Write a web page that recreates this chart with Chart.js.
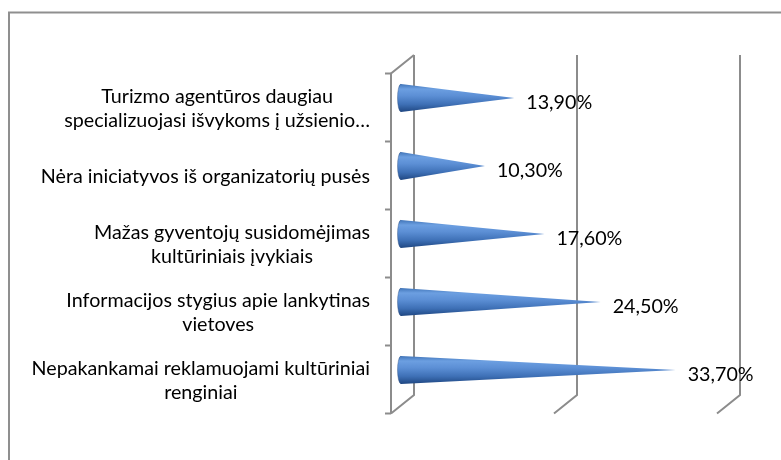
<!DOCTYPE html>
<html>
<head>
<meta charset="utf-8">
<script src="https://cdn.jsdelivr.net/npm/chart.js@4/dist/chart.umd.min.js"></script>
<style>
  html, body { margin: 0; padding: 0; background: #ffffff; }
  canvas { display: block; }
</style>
</head>
<body>
<canvas id="c" width="781" height="460"></canvas>
<script>
// ---- data ----
const categories = [
  ["Turizmo agentūros daugiau", "specializuojasi išvykoms į užsienio…"],
  ["Nėra iniciatyvos iš organizatorių pusės"],
  ["Mažas gyventojų susidomėjimas", "kultūriniais įvykiais"],
  ["Informacijos stygius apie lankytinas", "vietoves"],
  ["Nepakankamai reklamuojami kultūriniai", "renginiai"]
];
const values = [13.9, 10.3, 17.6, 24.5, 33.7];
const gridTicks = [0, 20, 40];

// ---- styling ----
const FONT = '19.7px Lato, "Open Sans", sans-serif';
const LINE = '#8c8c8c';
const BACK = { dx: 13, dy: -9 };
const FRONT = { dx: -10, dy: 9.5 };

function fmt(v) { return v.toFixed(2).replace('.', ',') + '%'; }

const framePlugin = {
  id: 'frame3d',
  beforeDatasetsDraw(chart) {
    const ctx = chart.ctx, xs = chart.scales.x, ca = chart.chartArea;
    ctx.save();
    // outer border (left + top)
    ctx.strokeStyle = '#8f8f8f';
    ctx.lineWidth = 2;
    ctx.beginPath();
    ctx.moveTo(9, 460); ctx.lineTo(9, 12.5); ctx.lineTo(781, 12.5);
    ctx.stroke();

    ctx.strokeStyle = LINE;
    ctx.lineWidth = 2;
    const x0 = xs.getPixelForValue(0);
    gridTicks.forEach(v => {
      const x = xs.getPixelForValue(v);
      ctx.beginPath();
      ctx.moveTo(x + BACK.dx, ca.top + BACK.dy);
      ctx.lineTo(x + BACK.dx, ca.bottom + BACK.dy);
      ctx.lineTo(x + FRONT.dx, ca.bottom + FRONT.dy);
      ctx.stroke();
    });
    // left wall top diagonal + front axis
    ctx.beginPath();
    ctx.moveTo(x0 + BACK.dx, ca.top + BACK.dy);
    ctx.lineTo(x0 + FRONT.dx, ca.top + FRONT.dy);
    ctx.lineTo(x0 + FRONT.dx, ca.bottom + FRONT.dy);
    ctx.stroke();
    // category tick marks
    const n = values.length;
    const step = (ca.bottom - ca.top) / n;
    for (let i = 0; i <= n; i++) {
      const y = ca.top + i * step + FRONT.dy;
      ctx.beginPath();
      ctx.moveTo(x0 + FRONT.dx - 6, y);
      ctx.lineTo(x0 + FRONT.dx, y);
      ctx.stroke();
    }
    ctx.restore();
  },
  afterDatasetsDraw(chart) {
    const ctx = chart.ctx, xs = chart.scales.x, ys = chart.scales.y;
    const meta = chart.getDatasetMeta(0);
    ctx.save();
    meta.data.forEach((el, i) => {
      const p = el.getProps(['x', 'y', 'base', 'height'], true);
      const xb = p.base, xt = p.x, yc = p.y, h = p.height / 2;
      const rx = 3.5;
      const g = ctx.createLinearGradient(0, yc - h, 0, yc + h);
      g.addColorStop(0, '#4175b9');
      g.addColorStop(0.18, '#6c9fe1');
      g.addColorStop(0.42, '#5c8fd5');
      g.addColorStop(0.72, '#3f71b7');
      g.addColorStop(1, '#1f4782');
      ctx.beginPath();
      ctx.moveTo(xt, yc);
      ctx.lineTo(xb, yc - h);
      ctx.ellipse(xb, yc, rx, h, 0, -Math.PI / 2, Math.PI / 2, true);
      ctx.closePath();
      ctx.fillStyle = g;
      ctx.fill();
      // darker base rim
      ctx.beginPath();
      ctx.ellipse(xb, yc, rx, h, 0, Math.PI / 2, -Math.PI / 2, false);
      ctx.strokeStyle = 'rgba(30,60,110,0.35)';
      ctx.lineWidth = 1;
      ctx.stroke();

      // value label
      ctx.fillStyle = '#000000';
      ctx.font = FONT;
      ctx.textAlign = 'left';
      ctx.textBaseline = 'middle';
      ctx.fillText(fmt(values[i]), xt + 12, yc + 5);
    });

    // category labels (right-aligned block, lines centered within block)
    ctx.font = FONT;
    ctx.fillStyle = '#000000';
    ctx.textBaseline = 'middle';
    ctx.textAlign = 'center';
    const rightEdge = xs.getPixelForValue(0) + FRONT.dx - 21;
    const lh = 24;
    categories.forEach((lines, i) => {
      const yc = ys.getPixelForValue(i) + FRONT.dy + 1;
      const w = Math.max(...lines.map(l => ctx.measureText(l).width));
      const cx = rightEdge - w / 2;
      const y0 = yc - (lines.length - 1) * lh / 2;
      lines.forEach((l, k) => ctx.fillText(l, cx, y0 + k * lh));
    });
    ctx.restore();
  }
};

new Chart(document.getElementById('c'), {
  type: 'bar',
  data: {
    labels: categories,
    datasets: [{
      data: values,
      backgroundColor: 'rgba(0,0,0,0)',
      borderWidth: 0,
      barPercentage: 0.41,
      categoryPercentage: 1
    }]
  },
  options: {
    indexAxis: 'y',
    responsive: false,
    animation: false,
    devicePixelRatio: 1,
    layout: { padding: { left: 401, right: 54, top: 64, bottom: 56 } },
    plugins: { legend: { display: false }, tooltip: { enabled: false } },
    scales: {
      x: { type: 'linear', min: 0, max: 40, display: false },
      y: { display: false, offset: true }
    }
  },
  plugins: [framePlugin]
});
</script>
</body>
</html>
